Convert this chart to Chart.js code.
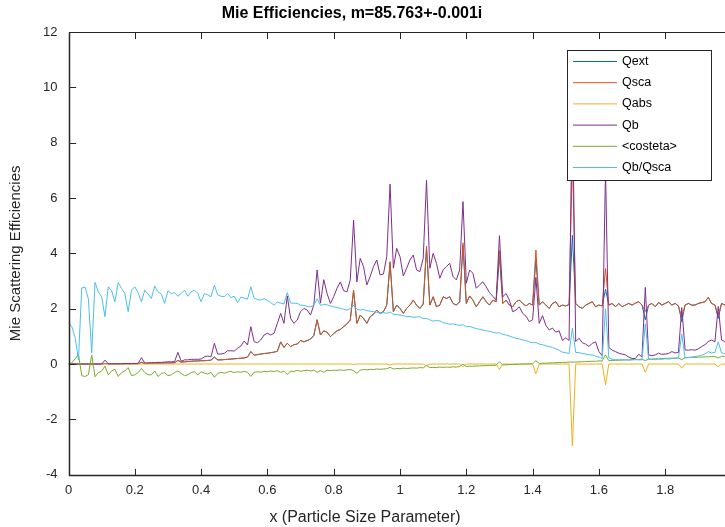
<!DOCTYPE html>
<html>
<head>
<meta charset="utf-8">
<script src="https://cdn.jsdelivr.net/npm/chart.js@4/dist/chart.umd.min.js"></script>
<style>
  html, body { margin: 0; padding: 0; background: #fff; overflow: hidden; width: 725px; height: 527px; }
  #wrap { width: 745px; height: 527px; }
  canvas { display: block; }
</style>
</head>
<body>
<div id="wrap"><canvas id="mieChart" width="745" height="527" style="width:745px;height:527px"></canvas></div>
<script>
// x (particle size parameter), sampled every 0.01
const xValues = [
  0,0.01,0.02,0.03,0.04,0.05,0.06,0.07,0.08,0.09,
  0.1,0.11,0.12,0.13,0.14,0.15,0.16,0.17,0.18,0.19,
  0.2,0.21,0.22,0.23,0.24,0.25,0.26,0.27,0.28,0.29,
  0.3,0.31,0.32,0.33,0.34,0.35,0.36,0.37,0.38,0.39,
  0.4,0.41,0.42,0.43,0.44,0.45,0.46,0.47,0.48,0.49,
  0.5,0.51,0.52,0.53,0.54,0.55,0.56,0.57,0.58,0.59,
  0.6,0.61,0.62,0.63,0.64,0.65,0.66,0.67,0.68,0.69,
  0.7,0.71,0.72,0.73,0.74,0.75,0.76,0.77,0.78,0.79,
  0.8,0.81,0.82,0.83,0.84,0.85,0.86,0.87,0.88,0.89,
  0.9,0.91,0.92,0.93,0.94,0.95,0.96,0.97,0.98,0.99,
  1,1.01,1.02,1.03,1.04,1.05,1.06,1.07,1.08,1.09,
  1.1,1.11,1.12,1.13,1.14,1.15,1.16,1.17,1.18,1.19,
  1.2,1.21,1.22,1.23,1.24,1.25,1.26,1.27,1.28,1.29,
  1.3,1.31,1.32,1.33,1.34,1.35,1.36,1.37,1.38,1.39,
  1.4,1.41,1.42,1.43,1.44,1.45,1.46,1.47,1.48,1.49,
  1.5,1.51,1.52,1.53,1.54,1.55,1.56,1.57,1.58,1.59,
  1.6,1.61,1.62,1.63,1.64,1.65,1.66,1.67,1.68,1.69,
  1.7,1.71,1.72,1.73,1.74,1.75,1.76,1.77,1.78,1.79,
  1.8,1.81,1.82,1.83,1.84,1.85,1.86,1.87,1.88,1.89,
  1.9,1.91,1.92,1.93,1.94,1.95,1.96,1.97,1.98,1.99,
  2
];

const qext = [
  0,0,0,0,0,0,0,0,0,0,
  0,0.02,0.005,0.005,0.006,0.006,0.007,0.007,0.008,0.008,
  0.009,0.01,0.06,0.02,0.02,0.025,0.025,0.03,0.03,0.035,
  0.035,0.04,0.045,0.13,0.07,0.08,0.09,0.1,0.11,0.11,
  0.12,0.12,0.13,0.14,0.25,0.15,0.15,0.16,0.17,0.18,
  0.19,0.2,0.21,0.22,0.25,0.45,0.32,0.34,0.36,0.38,
  0.39,0.41,0.43,0.46,0.8,0.6,0.75,0.63,0.7,0.72,
  0.85,0.8,0.85,0.9,1.03,1.6,1.05,1.2,1.15,0.99,
  1.1,1.2,1.25,1.35,1.45,1.59,2.65,1.47,1.77,1.65,
  1.47,1.71,1.8,1.95,1.83,1.89,2.13,3.66,1.89,2.13,
  2.01,1.83,2.01,2.13,2.31,2.13,2.01,2.17,4.2,2.13,
  2.43,2.07,2.13,2.43,2.37,2.43,2.19,2.13,2.25,4.28,
  2.19,2.46,2.31,2.07,2.25,2.43,2.25,2.13,2.31,2.25,
  3.9,2.19,2.31,2.13,2.07,2.25,2.31,2.19,2.1,2.19,
  2.13,3.77,2.13,2.25,2.13,2.01,2.19,2.25,2.07,2.13,
  2.1,2.15,4.65,2.19,2.07,2.01,2.13,2.19,2.25,2.07,
  2.13,2.1,2.7,2.13,2.19,2.07,2.19,2.07,2.13,2.19,
  2.13,2.2,2.25,2.13,1.6,2.13,2.19,2.07,2.22,2.13,
  2.19,2.25,2.13,2.19,2.1,1.53,2.13,2.19,2.13,2.13,
  2.19,2.22,2.25,2.41,2.19,2.13,1.65,2.19,2.13,2.2,
  2.15
];

const qsca = [
  0,0,0,0,0,0,0,0,0,0,
  0,0.02,0.005,0.005,0.006,0.006,0.007,0.007,0.008,0.008,
  0.009,0.01,0.06,0.02,0.02,0.025,0.025,0.03,0.03,0.035,
  0.035,0.04,0.045,0.13,0.07,0.08,0.09,0.1,0.11,0.11,
  0.12,0.12,0.13,0.14,0.25,0.15,0.15,0.16,0.17,0.18,
  0.19,0.2,0.21,0.22,0.25,0.45,0.32,0.34,0.36,0.38,
  0.39,0.41,0.43,0.46,0.8,0.6,0.75,0.63,0.7,0.72,
  0.85,0.8,0.85,0.9,1.03,1.6,1.05,1.2,1.15,0.99,
  1.1,1.2,1.25,1.35,1.45,1.59,2.67,1.47,1.77,1.65,
  1.47,1.71,1.8,1.95,1.83,1.89,2.13,3.7,1.89,2.13,
  2.01,1.83,2.01,2.13,2.31,2.13,2.01,2.17,4.26,2.13,
  2.43,2.07,2.13,2.43,2.37,2.43,2.19,2.13,2.25,4.38,
  2.19,2.46,2.31,2.07,2.25,2.43,2.25,2.13,2.31,2.25,
  4.1,2.19,2.31,2.13,2.07,2.25,2.31,2.19,2.1,2.19,
  2.13,4.12,2.13,2.25,2.13,2.01,2.19,2.25,2.07,2.13,
  2.1,2.15,7.6,2.19,2.07,2.01,2.13,2.19,2.25,2.07,
  2.13,2.1,3.45,2.13,2.19,2.07,2.19,2.07,2.13,2.19,
  2.13,2.2,2.25,2.13,1.9,2.13,2.19,2.07,2.22,2.13,
  2.19,2.25,2.13,2.19,2.1,1.68,2.13,2.19,2.13,2.13,
  2.19,2.22,2.25,2.41,2.19,2.13,1.75,2.19,2.13,2.2,
  2.15
];

const qabs = [
  0,0,0,0,0,0,0,0,0,0,
  0,0,0,0,0,0,0,0,0,0,
  0,0,0,0,0,0,0,0,0,0,
  0,0,0,0,0,0,0,0,0,0,
  0,0,0,0,0,0,0,0,0,0,
  0,0,0,0,0,0,0,0,0,0,
  0,0,0,0,0,0,0,0,0,0,
  0,0,0,0,0,0,0,0,0,0,
  0,0,0,0,0,0,-0.02,0,0,0,
  0,0,0,0,0,0,0,-0.04,0,0,
  0,0,0,0,0,0,0,0,-0.06,0,
  0,0,0,0,0,0,0,0,0,-0.1,
  0,0,0,0,0,0,0,0,0,0,
  -0.2,0,0,0,0,0,0,0,0,0,
  0,-0.35,0,0,0,0,0,0,0,0,
  0,0,-2.95,0,0,0,0,0,0,0,
  0,0,-0.75,0,0,0,0,0,0,0,
  0,0,0,0,-0.3,0,0,0,0,0,
  0,0,0,0,0,-0.15,0,0,0,0,
  0,0,0,0,0,0,-0.1,0,0,0,
  0
];

const qb = [
  0,0,0,0,0,0,0,0,0,0,
  0,0.14,0.01,0.01,0.01,0.01,0.01,0.02,0.02,0.02,
  0.02,0.02,0.23,0.04,0.04,0.05,0.05,0.06,0.06,0.07,
  0.08,0.08,0.09,0.42,0.1,0.15,0.15,0.17,0.17,0.17,
  0.18,0.26,0.29,0.26,0.75,0.36,0.36,0.39,0.48,0.48,
  0.47,0.57,0.65,0.83,0.69,1.35,0.81,0.77,0.87,1.05,
  1.11,1.05,1.11,1.47,1.83,1.47,2.46,1.65,1.47,1.59,
  1.89,2.01,1.95,1.77,2.13,3.4,2.2,3.05,2.55,2.19,
  2.43,2.74,2.97,2.65,2.61,3.04,5.2,2.97,3.82,3.52,
  2.86,3.16,3.52,3.76,3.22,3.25,3.88,6.5,3.46,4.18,
  3.88,3.18,3.46,3.76,3.94,3.4,3.34,3.82,6.64,3.46,
  4.0,3.64,3.1,3.4,3.52,3.64,3.16,3.04,3.4,5.87,
  2.92,3.4,3.28,2.74,2.86,2.97,2.79,2.58,2.45,2.31,
  4.64,2.43,2.55,2.31,1.89,1.95,2.07,1.83,1.73,1.53,
  1.6,3.13,1.47,1.75,1.4,1.23,1.3,1.15,1.2,0.85,
  0.95,0.85,9.9,0.81,0.93,0.77,0.72,0.63,0.75,0.8,
  0.45,0.3,7.0,0.6,0.5,0.45,0.39,0.36,0.33,0.25,
  0.2,0.2,0.35,0.26,2.77,0.33,0.3,0.33,0.39,0.35,
  0.36,0.38,0.45,0.4,0.42,2.04,0.51,0.5,0.52,0.5,
  0.55,0.63,0.7,0.81,0.87,0.8,2.08,0.87,0.81,0.85,
  0.84
];

const costeta = [
  0,0.04,0.19,0.35,-0.42,-0.45,-0.39,0.33,-0.46,-0.31,
  -0.25,-0.08,-0.39,-0.25,-0.19,-0.45,-0.31,-0.25,-0.13,-0.42,
  -0.39,-0.31,-0.16,-0.31,-0.39,-0.39,-0.25,-0.45,-0.34,-0.31,
  -0.42,-0.39,-0.31,-0.25,-0.34,-0.42,-0.39,-0.31,-0.28,-0.39,
  -0.28,-0.33,-0.36,-0.3,-0.48,-0.34,-0.3,-0.33,-0.29,-0.27,
  -0.31,-0.28,-0.3,-0.26,-0.3,-0.45,-0.3,-0.28,-0.3,-0.26,
  -0.28,-0.25,-0.27,-0.24,-0.3,-0.26,-0.38,-0.25,-0.27,-0.23,
  -0.26,-0.24,-0.22,-0.25,-0.22,-0.3,-0.24,-0.3,-0.22,-0.24,
  -0.22,-0.23,-0.21,-0.23,-0.21,-0.2,-0.24,-0.34,-0.22,-0.2,
  -0.21,-0.19,-0.2,-0.18,-0.19,-0.18,-0.17,-0.12,-0.18,-0.16,
  -0.17,-0.15,-0.16,-0.15,-0.14,-0.15,-0.13,-0.14,-0.05,-0.13,
  -0.12,-0.13,-0.11,-0.12,-0.11,-0.12,-0.1,-0.11,-0.09,0,
  -0.09,-0.08,-0.08,-0.07,-0.07,-0.06,-0.06,-0.05,-0.05,-0.04,
  0.08,-0.03,-0.03,-0.02,-0.02,-0.01,-0.01,0,0,0.01,
  0.01,0.12,0.02,0.03,0.03,0.04,0.04,0.05,0.05,0.06,
  0.06,0.07,0.07,0.07,0.08,0.08,0.09,0.09,0.1,0.1,
  0.11,0.11,0.33,0.12,0.13,0.13,0.14,0.14,0.15,0.15,
  0.16,0.16,0.17,0.17,0.12,0.18,0.18,0.19,0.19,0.2,
  0.2,0.21,0.21,0.22,0.22,0.16,0.23,0.23,0.24,0.24,
  0.25,0.25,0.26,0.26,0.27,0.27,0.22,0.28,0.28,0.29,
  0.29
];

const qbOverQsca = [
  1.5,1.35,0.95,0.15,2.75,2.78,2.35,0.4,2.95,2.61,
  2.43,1.71,2.79,2.65,2.25,2.94,2.73,2.55,1.89,2.67,
  2.79,2.58,2.25,2.67,2.53,2.37,2.82,2.61,2.53,2.19,
  2.65,2.55,2.58,2.45,2.55,2.67,2.45,2.61,2.67,2.55,
  2.25,2.55,2.5,2.43,2.85,2.5,2.45,2.43,2.55,2.4,
  2.45,2.22,2.42,2.38,2.34,2.79,2.38,2.33,2.31,2.36,
  2.3,2.22,2.13,2.24,2.2,2.17,2.58,2.2,2.2,2.19,
  2.13,2.12,2.08,2.07,2.12,2.36,2.12,2.15,2.14,2.1,
  2.07,2.04,2.01,1.98,1.95,2.0,2.12,1.98,1.95,1.97,
  1.93,1.91,1.89,1.87,1.83,1.86,1.83,1.88,1.8,1.79,
  1.77,1.75,1.71,1.72,1.69,1.7,1.71,1.64,1.65,1.6,
  1.55,1.57,1.56,1.5,1.47,1.44,1.45,1.42,1.4,1.42,
  1.35,1.36,1.32,1.28,1.25,1.23,1.2,1.18,1.15,1.12,
  1.13,1.07,1.05,1.01,0.97,0.93,0.91,0.87,0.85,0.8,
  0.77,0.78,0.72,0.7,0.66,0.63,0.6,0.55,0.5,0.43,
  0.41,0.38,1.3,0.42,0.41,0.38,0.36,0.33,0.33,0.28,
  0.25,0.2,2.0,0.22,0.17,0.16,0.15,0.16,0.15,0.14,
  0.15,0.16,0.15,0.15,1.45,0.16,0.17,0.16,0.18,0.17,
  0.19,0.18,0.2,0.2,0.22,1.08,0.22,0.24,0.25,0.27,
  0.29,0.32,0.36,0.45,0.4,0.42,0.8,0.4,0.38,0.4,
  0.38
];

const seriesLabels = ['Qext', 'Qsca', 'Qabs', 'Qb', '<costeta>', 'Qb/Qsca'];
const seriesColors = ['#0072BD', '#D95319', '#EDB120', '#7E2F8E', '#77AC30', '#4DBEEE'];

const xTickValues = [0, 0.2, 0.4, 0.6, 0.8, 1, 1.2, 1.4, 1.6, 1.8, 2];
const xTickLabels = ['0', '0.2', '0.4', '0.6', '0.8', '1', '1.2', '1.4', '1.6', '1.8', '2'];
const yTickValues = [-4, -2, 0, 2, 4, 6, 8, 10, 12];
const yTickLabels = ['-4', '-2', '0', '2', '4', '6', '8', '10', '12'];

const chartTitle = 'Mie Efficiencies, m=85.763+-0.001i';
const xAxisTitle = 'x (Particle Size Parameter)';
const yAxisTitle = 'Mie Scattering Efficiencies';

const FONT = "'Liberation Sans', Arial, Helvetica, sans-serif";
const AXIS_COLOR = '#262626';

// MATLAB-like box, inward ticks, legend and labels
const matlabDecor = {
  id: 'matlabDecor',
  afterDatasetsDraw(chart) {
    const { ctx, chartArea: a, scales: { x, y } } = chart;
    const tl = 6.6;
    ctx.save();
    ctx.strokeStyle = AXIS_COLOR;
    ctx.lineWidth = 1;
    const L = Math.round(a.left) + 0.5, R = Math.round(a.right) + 0.5;
    const T = Math.round(a.top) + 0.5, B = Math.round(a.bottom) + 0.5;
    ctx.strokeRect(L, T, R - L, B - T);
    // left and bottom axis lines a little heavier
    ctx.lineWidth = 1.5;
    ctx.beginPath();
    ctx.moveTo(L, T); ctx.lineTo(L, B); ctx.lineTo(R, B);
    ctx.stroke();
    ctx.lineWidth = 1;
    ctx.beginPath();
    xTickValues.forEach(v => {
      const px = Math.round(x.getPixelForValue(v)) + 0.5;
      ctx.moveTo(px, B); ctx.lineTo(px, B - tl);
      ctx.moveTo(px, T); ctx.lineTo(px, T + tl);
    });
    yTickValues.forEach(v => {
      const py = Math.round(y.getPixelForValue(v)) + 0.5;
      ctx.moveTo(L, py); ctx.lineTo(L + tl, py);
      ctx.moveTo(R, py); ctx.lineTo(R - tl, py);
    });
    ctx.stroke();

    // legend box
    const lx = 567.5, ly = 50.5, lw = 144, lh = 130;
    ctx.fillStyle = '#fff';
    ctx.fillRect(lx, ly, lw, lh);
    ctx.strokeStyle = AXIS_COLOR;
    ctx.strokeRect(lx, ly, lw, lh);
    ctx.font = '12.5px ' + FONT;
    ctx.textBaseline = 'middle';
    ctx.textAlign = 'left';
    seriesLabels.forEach((label, i) => {
      const ry = 61 + i * 21.2;
      ctx.strokeStyle = seriesColors[i];
      ctx.lineWidth = 1;
      ctx.beginPath();
      ctx.moveTo(573, ry + 0.5); ctx.lineTo(617, ry + 0.5);
      ctx.stroke();
      ctx.fillStyle = '#000';
      ctx.fillText(label, 622, ry + 0.5);
    });

    // titles
    ctx.fillStyle = '#000';
    ctx.textAlign = 'center';
    ctx.font = 'bold 16px ' + FONT;
    ctx.fillText(chartTitle, 352, 14);
    ctx.fillStyle = AXIS_COLOR;
    ctx.font = '16px ' + FONT;
    ctx.fillText(xAxisTitle, 365, 518);
    ctx.translate(16, (a.top + a.bottom) / 2);
    ctx.rotate(-Math.PI / 2);
    ctx.font = '15px ' + FONT;
    ctx.fillText(yAxisTitle, 0, 0);
    ctx.restore();
  }
};

const seriesData = [qext, qsca, qabs, qb, costeta, qbOverQsca];
const datasets = seriesData.map((vals, i) => ({
  label: seriesLabels[i],
  data: xValues.map((xv, k) => ({ x: xv, y: vals[k] })),
  borderColor: seriesColors[i],
  backgroundColor: seriesColors[i],
  borderWidth: 1,
  pointRadius: 0,
  tension: 0,
  fill: false,
  order: seriesData.length - i // later series drawn on top, like MATLAB
}));

const tickFont = { family: FONT, size: 13 };

new Chart(document.getElementById('mieChart').getContext('2d'), {
  type: 'line',
  data: { datasets },
  options: {
    responsive: false,
    devicePixelRatio: 1,
    animation: false,
    layout: { padding: { top: 32, right: 13.5, bottom: 0, left: 0 } },
    plugins: {
      legend: { display: false },
      tooltip: { enabled: false },
      title: { display: false }
    },
    scales: {
      x: {
        type: 'linear',
        min: 0,
        max: 2,
        afterBuildTicks: s => { s.ticks = xTickValues.map(v => ({ value: v })); },
        afterFit: s => { s.height = 52.3; },
        grid: { display: false, drawTicks: false },
        border: { display: false },
        ticks: {
          padding: 8,
          maxRotation: 0,
          color: AXIS_COLOR,
          font: tickFont,
          callback: (v, i) => xTickLabels[i]
        }
      },
      y: {
        type: 'linear',
        min: -4,
        max: 12,
        afterBuildTicks: s => { s.ticks = yTickValues.map(v => ({ value: v })); },
        afterFit: s => { s.width = 68.5; },
        grid: { display: false, drawTicks: false },
        border: { display: false },
        ticks: {
          padding: 11,
          color: AXIS_COLOR,
          font: tickFont,
          callback: (v, i) => yTickLabels[i]
        }
      }
    }
  },
  plugins: [matlabDecor]
});
</script>
</body>
</html>
